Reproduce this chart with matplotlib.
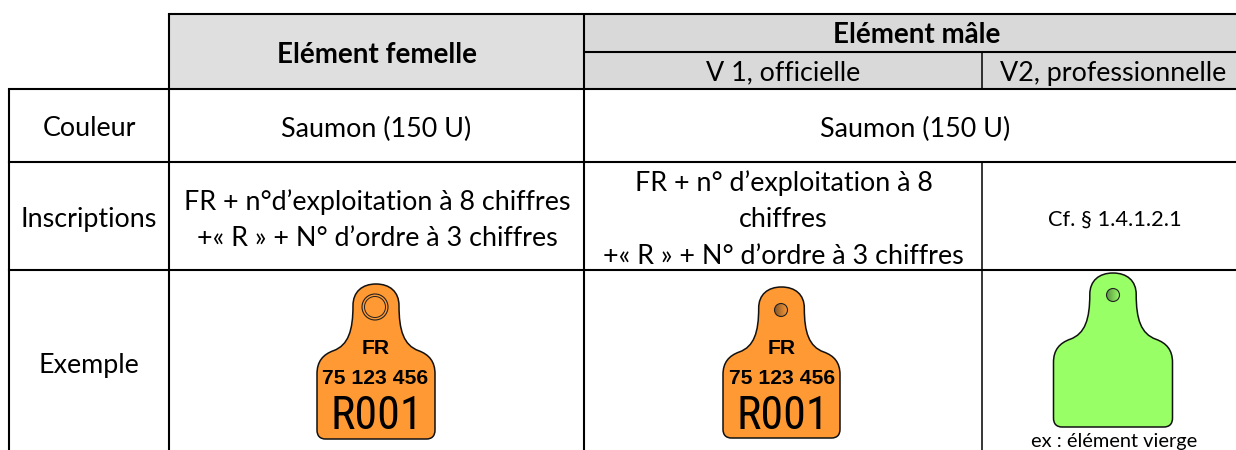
import numpy as np
import matplotlib
matplotlib.use("Agg")
import matplotlib.pyplot as plt
from matplotlib import font_manager
from matplotlib.colors import LinearSegmentedColormap
from matplotlib.path import Path
from matplotlib.patches import PathPatch, Circle, Rectangle

W, H = 1236, 450

# table grid, in pixels of the picture
col_x = [9, 169, 584, 982, 1236]
row_y = [14, 52, 89, 162, 270, 450]

row_labels = ["Couleur", "Inscriptions", "Exemple"]
header_female = "Elément femelle"
header_male = "Elément mâle"
header_v1 = "V 1, officielle"
header_v2 = "V2, professionnelle"
colour_text = "Saumon (150 U)"
marks_female = "FR + n°d’exploitation à 8 chiffres\n+« R » + N° d’ordre à 3 chiffres"
marks_v1 = "FR + n° d’exploitation à 8\nchiffres\n+« R » + N° d’ordre à 3 chiffres"
marks_v2 = "Cf. § 1.4.1.2.1"
tag_lines = ["FR", "75 123 456", "R001"]
blank_note = "ex : élément vierge"

FONT = "Lato"
TAG_FONT = "Liberation Sans"
ORANGE = "#ff9933"
GREEN = "#99ff66"
SIZE = 19.4
BOLD_SIZE = 20


def narrow_font():
    # the big tag number is condensed in the reference, use a narrow face if there is one
    for name in ["Liberation Sans Narrow", "Roboto Condensed", "Open Sans Condensed",
                 "Noto Sans Condensed", "Lato Condensed"]:
        try:
            font_manager.findfont(name, fallback_to_default=False)
            return name, 33
        except ValueError:
            pass
    return TAG_FONT, 29.5


NUMBER_FONT, NUMBER_SIZE = narrow_font()

fig = plt.figure(figsize=(W / 100, H / 100), dpi=100)
ax = fig.add_axes([0, 0, 1, 1])


def tag_path(cx, top, bottom, half):
    # outline of an ear tag, built from the half width and the height
    h = bottom - top
    neck = half * 0.39
    right = [
        (Path.MOVETO, (0, 0)),
        (Path.CURVE4, (neck * 0.6, 0)),
        (Path.CURVE4, (neck, 0.05 * h)),
        (Path.CURVE4, (neck, 0.14 * h)),
        (Path.CURVE4, (neck, 0.30 * h)),
        (Path.CURVE4, (half * 0.47, 0.395 * h)),
        (Path.CURVE4, (half * 0.72, 0.43 * h)),
        (Path.CURVE4, (half * 0.9, 0.455 * h)),
        (Path.CURVE4, (half, 0.50 * h)),
        (Path.CURVE4, (half, 0.58 * h)),
        (Path.LINETO, (half, 0.94 * h)),
        (Path.CURVE4, (half, 0.98 * h)),
        (Path.CURVE4, (half * 0.95, h)),
        (Path.CURVE4, (half * 0.85, h)),
    ]
    codes = [c for c, _ in right]
    verts = [(cx + x, top + y) for _, (x, y) in right]
    codes.append(Path.LINETO)
    verts.append((cx - half * 0.85, bottom))
    # mirror the right side back up to the top
    pts = [p for _, p in right]
    for i in range(len(right) - 1, 0, -1):
        codes.append(right[i][0])
        x, y = pts[i - 1]
        verts.append((cx - x, top + y))
    return Path(verts, codes)


def draw_hole(cx, cy, r, colour, dark):
    cmap = LinearSegmentedColormap.from_list("hole", [dark, colour])
    img = ax.imshow(np.linspace(0, 1, 32).reshape(1, -1), cmap=cmap, aspect="auto",
                    extent=(cx - r, cx + r, cy + r, cy - r), zorder=4)
    edge = Circle((cx, cy), r, fc="none", ec="#222222", lw=0.8, zorder=5)
    ax.add_patch(edge)
    img.set_clip_path(edge)


def draw_tag(cx, top, bottom, half, colour, text_x=None):
    ax.add_patch(PathPatch(tag_path(cx, top, bottom, half), fc=colour, ec="#111111", lw=1.1, zorder=3))
    if text_x is None:
        return
    ax.text(text_x, 348, tag_lines[0], fontsize=15.2, fontweight="bold", family=TAG_FONT,
            ha="center", va="center", zorder=5)
    ax.text(text_x, 378, tag_lines[1], fontsize=15.2, fontweight="bold", family=TAG_FONT,
            ha="center", va="center", zorder=5)
    ax.text(text_x + 1, 416, tag_lines[2], fontsize=NUMBER_SIZE, family=NUMBER_FONT,
            ha="center", va="center", zorder=5)


# header fills
ax.add_patch(Rectangle((col_x[1], row_y[0]), col_x[2] - col_x[1], row_y[2] - row_y[0], fc="#dfdfdf", ec="none"))
ax.add_patch(Rectangle((col_x[2], row_y[0]), col_x[4] - col_x[2], row_y[2] - row_y[0], fc="#d9d9d9", ec="none"))

# grid lines
lw = 1.5
ax.plot([col_x[1], col_x[4]], [row_y[0], row_y[0]], color="black", lw=lw, solid_capstyle="projecting")
ax.plot([col_x[2], col_x[4]], [row_y[1], row_y[1]], color="black", lw=lw, solid_capstyle="butt")
for y in row_y[2:5]:
    ax.plot([col_x[0], col_x[4]], [y, y], color="black", lw=lw, solid_capstyle="projecting")
ax.plot([col_x[0], col_x[0]], [row_y[2], H], color="black", lw=lw, solid_capstyle="butt")
ax.plot([col_x[1], col_x[1]], [row_y[0], H], color="black", lw=lw, solid_capstyle="butt")
ax.plot([col_x[2], col_x[2]], [row_y[0], H], color="black", lw=lw, solid_capstyle="butt")
ax.plot([col_x[3], col_x[3]], [row_y[1], row_y[2]], color="black", lw=1.1, solid_capstyle="butt")
ax.plot([col_x[3], col_x[3]], [row_y[3], H], color="black", lw=1.1, solid_capstyle="butt")

# headers
ax.text(377, 55, header_female, fontsize=BOLD_SIZE, fontweight="bold", family=FONT, ha="center", va="center")
ax.text(917, 35, header_male, fontsize=BOLD_SIZE, fontweight="bold", family=FONT, ha="center", va="center")
ax.text(783, 73, header_v1, fontsize=SIZE, family=FONT, ha="center", va="center")
ax.text(1113.5, 73, header_v2, fontsize=SIZE, family=FONT, ha="center", va="center")

# row labels
for label, yc in zip(row_labels, [129, 219, 366]):
    ax.text(89, yc, label, fontsize=SIZE, family=FONT, ha="center", va="center")

# colour row
ax.text(376, 129, colour_text, fontsize=SIZE, family=FONT, ha="center", va="center")
ax.text(915, 129, colour_text, fontsize=SIZE, family=FONT, ha="center", va="center")

# inscriptions row
ax.text(377, 220, marks_female, fontsize=SIZE, family=FONT, ha="center", va="center", linespacing=1.57)
ax.text(783.5, 219.5, marks_v1, fontsize=SIZE, family=FONT, ha="center", va="center", linespacing=1.57)
ax.text(1114.5, 220, marks_v2, fontsize=15.7, family=FONT, ha="center", va="center")

# example row
draw_tag(376, 284, 439, 59, ORANGE, text_x=375.5)
ax.add_patch(Circle((375, 307), 13, fc=ORANGE, ec="#222222", lw=0.8, zorder=4))
ax.add_patch(Circle((375, 307), 10.5, fc=ORANGE, ec="#222222", lw=0.7, zorder=4))
draw_tag(781.5, 287, 438, 58.5, ORANGE, text_x=782)
draw_hole(781, 310, 6.5, ORANGE, "#8a5a28")
draw_tag(1113, 273, 427, 59.5, GREEN)
draw_hole(1113, 295, 6.5, GREEN, "#5f9a45")
ax.text(1114, 442, blank_note, fontsize=14.4, family=FONT, ha="center", va="center")

ax.set_xlim(0, W)
ax.set_ylim(H, 0)
ax.axis("off")

fig.savefig("out.png", dpi=100)
